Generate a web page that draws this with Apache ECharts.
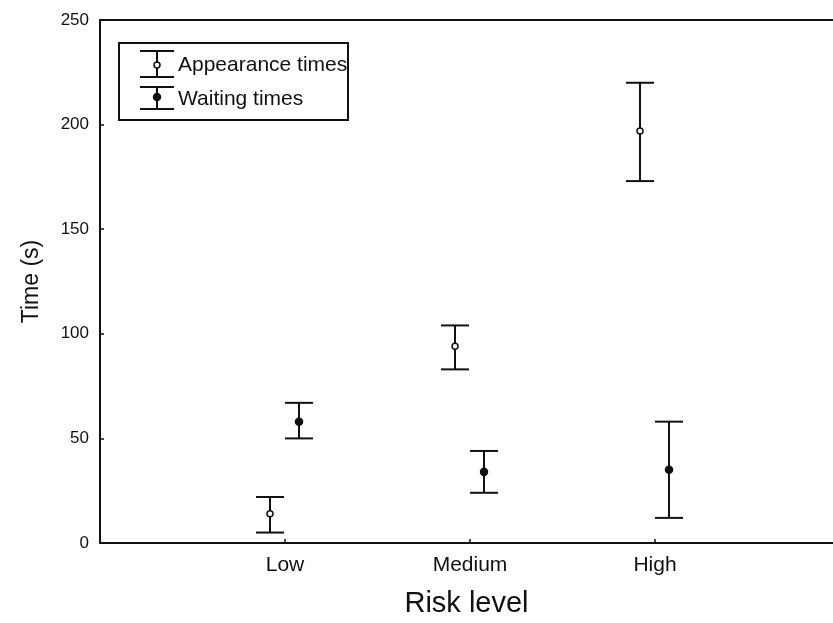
<!DOCTYPE html>
<html>
<head>
<meta charset="utf-8">
<script src="https://cdn.jsdelivr.net/npm/echarts@6/dist/echarts.min.js"></script>
<style>
  html, body { margin: 0; padding: 0; background: #fff; }
  #chart { width: 833px; height: 623px; }
</style>
</head>
<body>
<div id="chart"></div>
<script>
// Risk levels shown on the x axis
const riskLevels = ['Low', 'Medium', 'High'];

// Appearance times: mean with lower / upper error bounds (s)
const appearanceMean  = [14, 94, 197];
const appearanceLower = [5, 83, 173];
const appearanceUpper = [22, 104, 220];

// Waiting times: mean with lower / upper error bounds (s)
const waitingMean  = [58, 34, 35];
const waitingLower = [50, 24, 12];
const waitingUpper = [67, 44, 58];

// Y axis ticks
const yTicks = [0, 50, 100, 150, 200, 250];

const INK = '#111';
const FONT = 'Liberation Sans, Arial, sans-serif';
// x extent: the frame runs on past the right edge of the canvas
const X_MAX = 3.962;

function rows(mean, lower, upper) {
  return mean.map((m, i) => [i + 1, m, lower[i], upper[i]]);
}

// Draws a vertical error bar with caps and a centre marker, shifted sideways by dx pixels
function errorBarRenderer(dx, filled) {
  return function (params, api) {
    const x = api.value(0), m = api.value(1), lo = api.value(2), hi = api.value(3);
    const pm = api.coord([x, m]);
    const pl = api.coord([x, lo]);
    const ph = api.coord([x, hi]);
    const cx = pm[0] + dx;
    const half = 14;
    const lineStyle = { stroke: INK, lineWidth: 2 };
    return {
      type: 'group',
      children: [
        { type: 'line', shape: { x1: cx, y1: ph[1], x2: cx, y2: pl[1] }, style: lineStyle },
        { type: 'line', shape: { x1: cx - half, y1: ph[1], x2: cx + half, y2: ph[1] }, style: lineStyle },
        { type: 'line', shape: { x1: cx - half, y1: pl[1], x2: cx + half, y2: pl[1] }, style: lineStyle },
        {
          type: 'circle',
          shape: { cx: cx, cy: pm[1], r: filled ? 3.5 : 3 },
          style: { fill: filled ? INK : '#fff', stroke: INK, lineWidth: 1.5 },
          z2: 10
        }
      ]
    };
  };
}

// Legend entry: small error bar glyph followed by its label
function legendEntry(x, yTop, yBot, markY, filled, label) {
  const cx = x + 17;
  const ls = { stroke: INK, lineWidth: 2 };
  return [
    { type: 'line', shape: { x1: cx, y1: yTop, x2: cx, y2: yBot }, style: ls },
    { type: 'line', shape: { x1: x, y1: yTop, x2: x + 34, y2: yTop }, style: ls },
    { type: 'line', shape: { x1: x, y1: yBot, x2: x + 34, y2: yBot }, style: ls },
    { type: 'circle', shape: { cx: cx, cy: markY, r: filled ? 3.5 : 3 },
      style: { fill: filled ? INK : '#fff', stroke: INK, lineWidth: 1.5 } },
    { type: 'text', x: x + 38, y: (yTop + yBot) / 2 + 1,
      style: { text: label, fill: INK, font: '21px ' + FONT, verticalAlign: 'middle', align: 'left' } }
  ];
}

const chart = echarts.init(document.getElementById('chart'), null, { renderer: 'canvas' });

const tickValues = riskLevels.map((_, i) => i + 1);

chart.setOption({
  animation: false,
  backgroundColor: '#fff',
  grid: { left: 100, right: 0, top: 20, bottom: 79, show: false },
  xAxis: [
    {
      type: 'value',
      min: 0, max: X_MAX,
      name: 'Risk level',
      nameLocation: 'middle',
      nameGap: 46,
      nameTextStyle: { fontFamily: FONT, fontSize: 29, color: INK },
      axisLine: { show: true, lineStyle: { color: INK, width: 2 } },
      axisTick: { show: true, inside: true, length: 4, lineStyle: { color: INK, width: 1.5 },
        customValues: tickValues },
      axisLabel: {
        fontFamily: FONT, fontSize: 21, color: INK, margin: 12,
        customValues: tickValues,
        formatter: v => riskLevels[v - 1] || ''
      },
      splitLine: { show: false }
    },
    {
      // top edge of the frame
      type: 'value',
      position: 'top',
      min: 0, max: X_MAX,
      axisLine: { show: true, lineStyle: { color: INK, width: 2 } },
      axisTick: { show: false },
      axisLabel: { show: false },
      splitLine: { show: false }
    }
  ],
  yAxis: {
    type: 'value',
    min: yTicks[0], max: yTicks[yTicks.length - 1], interval: 50,
    name: 'Time (s)',
    nameLocation: 'middle',
    nameGap: 57,
    nameTextStyle: { fontFamily: FONT, fontSize: 23, color: INK },
    axisLine: { show: true, lineStyle: { color: INK, width: 2 } },
    axisTick: { show: true, inside: true, length: 4, lineStyle: { color: INK, width: 1.5 } },
    axisLabel: { fontFamily: FONT, fontSize: 17, color: INK, margin: 11 },
    splitLine: { show: false }
  },
  series: [
    {
      name: 'Appearance times',
      type: 'custom',
      renderItem: errorBarRenderer(-15, false),
      data: rows(appearanceMean, appearanceLower, appearanceUpper),
      encode: { x: 0, y: [1, 2, 3] },
      clip: false
    },
    {
      name: 'Waiting times',
      type: 'custom',
      renderItem: errorBarRenderer(14, true),
      data: rows(waitingMean, waitingLower, waitingUpper),
      encode: { x: 0, y: [1, 2, 3] },
      clip: false
    }
  ],
  graphic: [
    {
      type: 'rect',
      shape: { x: 119, y: 43, width: 229, height: 77 },
      style: { fill: '#fff', stroke: INK, lineWidth: 2 },
      z: 100
    },
    ...legendEntry(140, 51, 77, 65, false, 'Appearance times').map(e => Object.assign({ z: 110 }, e)),
    ...legendEntry(140, 87, 109, 97, true, 'Waiting times').map(e => Object.assign({ z: 110 }, e))
  ]
});
</script>
</body>
</html>
